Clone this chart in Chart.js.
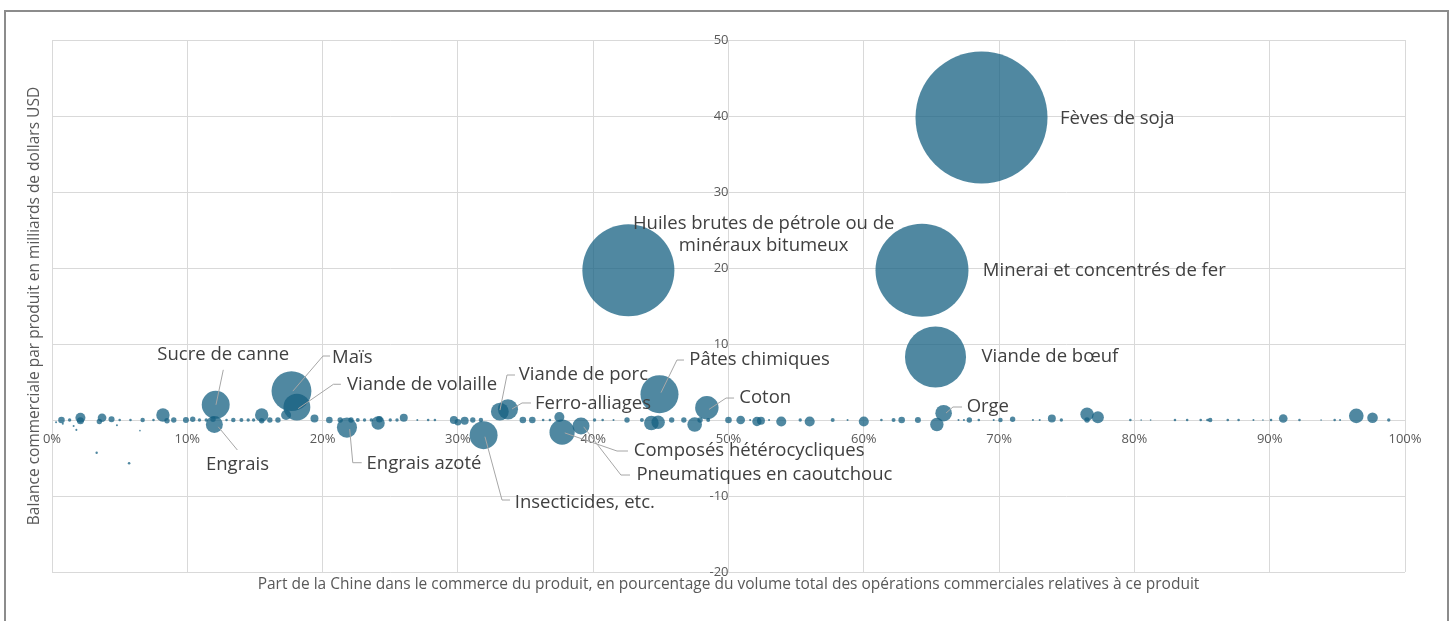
<!DOCTYPE html>
<html lang="fr">
<head>
    <meta charset="UTF-8">
    <title>Balance commerciale et part de la Chine</title>
    <script src="https://cdn.jsdelivr.net/npm/chart.js"></script>
    <style>
        body { margin: 0; background: #fff; }
        #cadre {
            position: absolute;
            left: 4px;
            top: 10px;
            width: 1441px;
            height: 700px;
            border: 2px solid #8c8c8c;
            pointer-events: none;
        }
        canvas { display: block; }
    </style>
</head>
<body>
    <canvas id="bulles" width="1456" height="621"></canvas>
    <div id="cadre"></div>

    <script>
        // produits ('' = produit sans étiquette)
        const produits = [
            '', '', '', '', '', '', '', '', '', '',
            '', '', '', '', '', '', '', '', '', '',
            '', '', '', '', '', '', 'Sucre de canne', 'Engrais', '', '',
            '', '', '', '', '', '', '', '', '', 'Maïs',
            'Viande de volaille', '', '', '', 'Engrais azoté', '', '', '', '', '',
            '', '', '', '', '', '', '', '', '', '',
            '', '', 'Insecticides, etc.', 'Viande de porc', 'Ferro-alliages', '', '', '', '', '',
            'Composés hétérocycliques', 'Pneumatiques en caoutchouc', '', '', '', '', 'Huiles brutes de pétrole ou de minéraux bitumeux', '', '', 'Pâtes chimiques',
            '', '', '', '', '', 'Coton', '', '', '', '',
            '', '', '', '', '', '', '', '', '', '',
            '', '', 'Minerai et concentrés de fer', 'Viande de bœuf', '', 'Orge', '', '', '', '',
            'Fèves de soja', '', '', '', '', '', '', '', '', '',
            '', '', '', '', '', '', '', '', '', '',
            '', '', '', '', '', '', '', '', '', '',
            '', '', ''
        ];

        // part de la Chine dans le commerce du produit (%)
        const partChine = [
            0.3, 0.7, 0.8, 1.3, 1.6, 2.1, 2.1, 1.8, 3.3, 3.5,
            3.7, 4.4, 4.8, 5.0, 5.7, 5.8, 6.5, 6.7, 7.5, 8.2,
            8.5, 9.0, 9.9, 10.4, 10.9, 11.4, 12.1, 12.0, 11.9, 12.9,
            13.4, 14.0, 14.5, 14.9, 15.5, 15.5, 16.1, 16.7, 17.3, 17.7,
            18.1, 19.4, 20.5, 21.3, 21.8, 22.1, 22.6, 23.1, 23.6, 24.1,
            24.2, 25.0, 25.5, 26.0, 27.0, 27.8, 28.3, 29.7, 30.0, 30.5,
            31.1, 31.7, 31.9, 33.1, 33.7, 34.8, 35.5, 36.3, 36.8, 37.5,
            37.7, 39.1, 40.1, 40.7, 41.5, 42.5, 42.6, 43.6, 44.3, 44.9,
            44.8, 45.8, 46.7, 47.5, 47.9, 48.4, 48.5, 50.0, 50.9, 51.6,
            52.1, 52.4, 53.0, 53.9, 55.3, 56.0, 57.7, 58.8, 60.0, 61.3,
            62.2, 62.8, 64.3, 65.3, 65.4, 65.9, 64.0, 67.0, 67.4, 67.8,
            68.7, 68.5, 69.6, 70.1, 71.0, 72.5, 73.0, 73.9, 74.6, 76.5,
            76.5, 77.3, 79.7, 80.5, 81.2, 83.0, 83.9, 84.9, 85.4, 85.6,
            86.9, 87.7, 88.8, 89.5, 90.1, 91.0, 92.2, 93.8, 94.8, 95.2,
            96.4, 97.6, 98.8
        ];

        // balance commerciale (milliards USD)
        const balance = [
            -0.3, 0, -0.5, 0, -0.8, 0.3, -0.1, -1.3, -4.3, -0.2,
            0.3, 0.1, -0.7, 0, -5.7, 0, -1.4, 0, 0, 0.66,
            -0.1, 0, 0, 0.1, 0, 0, 2.0, -0.6, 0.1, 0,
            0, 0, 0, 0, 0.66, -0.1, 0, 0, 0.66, 3.8,
            1.7, 0.2, 0, 0, -1.0, 0, 0, 0, 0, -0.4,
            0.1, 0, 0, 0.3, 0, 0, 0, 0, -0.3, -0.1,
            0, 0, -2.0, 1.1, 1.4, 0, 0, 0, 0, 0.4,
            -1.6, -0.8, 0, 0, 0, 0, 19.7, 0, -0.4, 3.4,
            -0.3, 0, 0, -0.6, 0, 1.6, 0, 0, 0, 0,
            -0.2, -0.1, 0, -0.2, 0, -0.2, 0, 0, -0.2, 0,
            0, 0, 19.7, 8.3, -0.6, 0.9, 0, 0, 0, 0,
            39.8, 0, 0, 0, 0.1, 0, 0, 0.2, 0, 0.75,
            0, 0.35, 0, 0, 0, 0, 0, 0, 0, 0,
            0, 0, 0, 0, 0, 0.2, 0, 0, 0, 0,
            0.55, 0.3, 0
        ];

        // volume des échanges (taille des bulles)
        const volume = [
            0.014, 0.15, 0.014, 0.04, 0.014, 0.35, 0.17, 0.014, 0.02, 0.1,
            0.26, 0.125, 0.014, 0.023, 0.023, 0.023, 0.009, 0.07, 0.023, 0.62,
            0.1, 0.1, 0.125, 0.1, 0.04, 0.04, 2.7, 1.0, 0.1, 0.023,
            0.07, 0.055, 0.04, 0.04, 0.62, 0.1, 0.1, 0.1, 0.35, 5.5,
            2.5, 0.22, 0.15, 0.1, 1.4, 0.1, 0.055, 0.04, 0.04, 0.62,
            0.15, 0.04, 0.04, 0.22, 0.014, 0.023, 0.023, 0.22, 0.15, 0.22,
            0.1, 0.07, 2.7, 1.1, 1.4, 0.15, 0.15, 0.023, 0.023, 0.35,
            2.2, 1.0, 0.04, 0.023, 0.014, 0.1, 29.3, 0.055, 0.74, 5.0,
            0.62, 0.1, 0.1, 0.74, 0.1, 1.9, 0.055, 0.15, 0.26, 0.014,
            0.3, 0.22, 0.014, 0.35, 0.04, 0.35, 0.055, 0.014, 0.35, 0.023,
            0.055, 0.15, 29.9, 12.9, 0.62, 0.95, 0.125, 0.014, 0.014, 0.1,
            60.3, 0.023, 0.014, 0.07, 0.1, 0.014, 0.014, 0.22, 0.04, 0.62,
            0.1, 0.5, 0.023, 0.009, 0.009, 0.023, 0.023, 0.023, 0.023, 0.07,
            0.023, 0.023, 0.014, 0.009, 0.023, 0.26, 0.023, 0.009, 0.023, 0.014,
            0.74, 0.39, 0.04
        ];

        const ticksY = [-20, -10, 0, 10, 20, 30, 40, 50];

        // étiquettes : position du texte et trait de rappel en coordonnées des axes
        const etiquettes = [
            { texte: ['Fèves de soja'], x: 74.5, y: 39.7, align: 'left' },
            { texte: ['Minerai et concentrés de fer'], x: 68.8, y: 19.6, align: 'left' },
            { texte: ['Viande de bœuf'], x: 68.7, y: 8.3, align: 'left' },
            { texte: ['Huiles brutes de pétrole ou de', 'minéraux bitumeux'], x: 52.6, y: 24.35, align: 'center' },
            { texte: ['Sucre de canne'], x: 12.66, y: 8.55, align: 'center', trait: [[12.66, 6.6], [12.12, 2.0]] },
            { texte: ['Engrais'], x: 13.71, y: -5.92, align: 'center', trait: [[13.7, -3.95], [12.29, -0.9]] },
            { texte: ['Maïs'], x: 20.7, y: 8.2, align: 'left', trait: [[20.55, 8.42], [20.03, 8.42], [17.8, 3.8]] },
            { texte: ['Viande de volaille'], x: 21.8, y: 4.7, align: 'left', trait: [[21.35, 4.7], [20.8, 4.7], [18.2, 1.5]] },
            { texte: ['Engrais azoté'], x: 23.25, y: -5.7, align: 'left', trait: [[22.89, -5.62], [22.23, -5.62], [22.0, -1.2]] },
            { texte: ['Insecticides, etc.'], x: 34.2, y: -10.9, align: 'left', trait: [[33.85, -10.53], [33.26, -10.53], [32.0, -2.2]] },
            { texte: ['Viande de porc'], x: 34.5, y: 5.9, align: 'left', trait: [[34.22, 5.92], [33.63, 5.92], [33.11, 1.3]] },
            { texte: ['Ferro-alliages'], x: 35.7, y: 2.2, align: 'left', trait: [[35.4, 2.24], [34.74, 2.24], [34.0, 1.45]] },
            { texte: ['Pâtes chimiques'], x: 47.1, y: 7.9, align: 'left', trait: [[46.71, 7.89], [46.19, 7.89], [45.01, 3.6]] },
            { texte: ['Coton'], x: 50.8, y: 2.9, align: 'left', trait: [[50.41, 2.89], [49.82, 2.89], [48.56, 1.4]] },
            { texte: ['Composés hétérocycliques'], x: 43.0, y: -4.1, align: 'left', trait: [[42.57, -4.08], [41.76, -4.08], [37.9, -1.7]] },
            { texte: ['Pneumatiques en caoutchouc'], x: 43.2, y: -7.2, align: 'left', trait: [[42.72, -7.24], [42.05, -7.24], [39.3, -0.9]] },
            { texte: ['Orge'], x: 67.6, y: 1.7, align: 'left', trait: [[67.26, 1.71], [66.59, 1.71], [66.08, 0.92]] }
        ];

        const rayon = v => 8.5 * Math.sqrt(v);

        const points = partChine.map((x, i) => ({
            x: x,
            y: balance[i],
            r: rayon(volume[i]),
            nom: produits[i]
        }));

        const police = '"Open Sans", sans-serif';

        // textes et traits de rappel
        const pluginEtiquettes = {
            id: 'etiquettes',
            afterDatasetsDraw(chart) {
                const { ctx, scales: { x, y }, chartArea } = chart;
                ctx.save();

                ctx.strokeStyle = '#a6a6a6';
                ctx.lineWidth = 1;
                etiquettes.forEach(e => {
                    if (!e.trait) return;
                    ctx.beginPath();
                    e.trait.forEach((p, j) => {
                        const px = x.getPixelForValue(p[0]);
                        const py = y.getPixelForValue(p[1]);
                        if (j === 0) ctx.moveTo(px, py); else ctx.lineTo(px, py);
                    });
                    ctx.stroke();
                });

                ctx.fillStyle = '#404040';
                ctx.font = '18.5px ' + police;
                ctx.textBaseline = 'middle';
                etiquettes.forEach(e => {
                    ctx.textAlign = e.align;
                    const px = x.getPixelForValue(e.x);
                    const py = y.getPixelForValue(e.y);
                    const h = 22;
                    const y0 = py - (e.texte.length - 1) * h / 2;
                    e.texte.forEach((t, j) => ctx.fillText(t, px, y0 + j * h));
                });

                // titres des axes
                ctx.fillStyle = '#595959';
                ctx.font = '15.5px ' + police;
                ctx.textAlign = 'center';
                ctx.fillText('Part de la Chine dans le commerce du produit, en pourcentage du volume total des opérations commerciales relatives à ce produit',
                    (chartArea.left + chartArea.right) / 2, 585);
                ctx.translate(35, (chartArea.top + chartArea.bottom) / 2);
                ctx.rotate(-Math.PI / 2);
                ctx.fillText('Balance commerciale par produit en milliards de dollars USD', 0, 0);

                ctx.restore();
            }
        };

        const ctx = document.getElementById('bulles').getContext('2d');
        const chart = new Chart(ctx, {
            type: 'bubble',
            data: {
                datasets: [{
                    data: points,
                    backgroundColor: 'rgba(21, 96, 130, 0.75)',
                    borderWidth: 0,
                    hoverBorderWidth: 0,
                    clip: false
                }]
            },
            options: {
                responsive: false,
                animation: false,
                layout: {
                    autoPadding: false,
                    padding: { left: 52, right: 51, top: 40, bottom: 49 }
                },
                plugins: {
                    legend: { display: false },
                    tooltip: { enabled: false }
                },
                scales: {
                    x: {
                        type: 'linear',
                        min: 0,
                        max: 100,
                        position: { y: 0 },
                        grid: { color: '#d9d9d9', tickLength: 8 },
                        border: { color: '#d9d9d9' },
                        ticks: {
                            stepSize: 10,
                            padding: 3,
                            color: '#595959',
                            font: { family: police, size: 13 },
                            callback: v => v + '%'
                        }
                    },
                    y: {
                        type: 'linear',
                        min: ticksY[0],
                        max: ticksY[ticksY.length - 1],
                        position: { x: 50 },
                        afterBuildTicks: axis => { axis.ticks = ticksY.map(v => ({ value: v })); },
                        grid: { color: '#d9d9d9', tickLength: 17 },
                        border: { color: '#d9d9d9' },
                        ticks: {
                            color: '#595959',
                            font: { family: police, size: 13 },
                            callback: v => v === 0 ? '' : v
                        }
                    }
                }
            },
            plugins: [pluginEtiquettes]
        });
    </script>
</body>
</html>
